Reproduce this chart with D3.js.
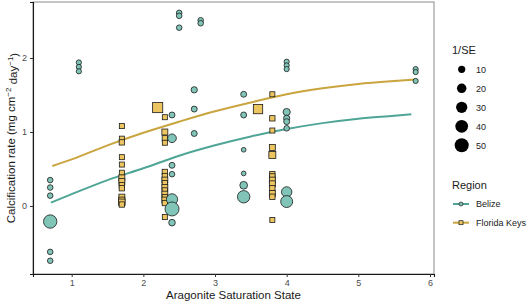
<!DOCTYPE html>
<html>
<head>
<meta charset="utf-8">
<script src="https://cdn.jsdelivr.net/npm/d3@7"></script>
<style>
  body { margin: 0; background: #fff; }
  text { font-family: "Liberation Sans", Arial, sans-serif; }
</style>
</head>
<body>
<div id="chart"></div>
<script>
// Belize points: aragonite state, calcification rate, 1/SE
const belizeX = [0.7, 0.7, 0.7, 0.7, 0.7, 0.7,
  1.1, 1.1, 1.1,
  2.4, 2.4, 2.4, 2.4, 2.4, 2.4, 2.4,
  2.5, 2.5, 2.5, 2.8, 2.8,
  2.71, 2.71, 2.71,
  3.4, 3.4, 3.4, 3.4, 3.4, 3.4,
  4.0, 4.0, 4.0, 4.0, 4.0, 4.0, 4.0, 4.0, 4.0,
  5.8, 5.8, 5.8];
const belizeY = [0.35, 0.25, 0.14, -0.21, -0.62, -0.74,
  1.94, 1.88, 1.82,
  1.23, 0.915, 0.55, 0.43, 0.09, -0.04, -0.225,
  2.61, 2.57, 2.41, 2.51, 2.47,
  1.57, 1.31, 0.98,
  1.51, 1.23, 0.76, 0.44, 0.28, 0.125,
  1.95, 1.90, 1.85, 1.27, 1.185, 1.14, 1.05, 0.19, 0.06,
  1.85, 1.81, 1.69];
const belizeW = [5, 5, 5, 45, 5, 5,
  4, 4, 4,
  6, 16, 6, 5, 30, 50, 8,
  5, 5, 5, 5, 5,
  7, 6, 6,
  6, 6, 3, 3, 12, 38,
  4, 4, 4, 10, 7, 6, 5, 25, 35,
  4, 4, 4];

// Florida Keys points
const floridaX = [1.7, 1.7, 1.7, 1.7, 1.7, 1.7, 1.7, 1.7, 1.7, 1.7, 1.7, 1.7, 1.7, 1.7,
  2.2,
  2.3, 2.3, 2.3, 2.3, 2.3, 2.3, 2.3, 2.3, 2.3, 2.3, 2.3, 2.3, 2.3, 2.3, 2.3,
  3.6,
  3.8, 3.8, 3.8, 3.8, 3.8, 3.8, 3.8, 3.8, 3.8, 3.8, 3.8, 3.8, 3.8];
const floridaY = [1.08, 0.91, 0.86, 0.66, 0.56, 0.45, 0.38, 0.33, 0.28, 0.24, 0.12, 0.08, 0.05, 0.02,
  1.33,
  1.20, 1.0, 0.915, 0.855, 0.46, 0.405, 0.35, 0.31, 0.25, 0.21, 0.16, 0.12, 0.08, 0.04, -0.15,
  1.31,
  1.51, 1.185, 1.02, 0.79, 0.69, 0.43, 0.40, 0.35, 0.30, 0.24, 0.17, 0.125, -0.19];
const floridaW = [5, 5, 6, 5, 5, 5, 8, 8, 6, 6, 8, 8, 10, 6,
  30,
  5, 8, 6, 5, 6, 6, 8, 6, 8, 6, 8, 6, 8, 6, 5,
  25,
  5, 6, 5, 8, 12, 6, 6, 8, 8, 6, 8, 6, 5];

// fitted curves
const fitBelizeX = [0.71, 1, 1.5, 2, 2.5, 3, 3.5, 4, 4.5, 5, 5.5, 5.74];
const fitBelizeY = [0.045, 0.16, 0.35, 0.51, 0.68, 0.82, 0.94, 1.04, 1.12, 1.18, 1.22, 1.24];
const fitFloridaX = [0.73, 1, 1.5, 2, 2.5, 3, 3.5, 4, 4.5, 5, 5.5, 5.8];
const fitFloridaY = [0.54, 0.63, 0.82, 0.99, 1.14, 1.28, 1.40, 1.51, 1.59, 1.65, 1.69, 1.71];

const xTicks = [1, 2, 3, 4, 5, 6];
const yTicks = [0, 1, 2];
const sizeBreaks = [10, 20, 30, 40, 50];
const regions = ["Belize", "Florida Keys"];

const color = {
  "Belize": { line: "#4fa596", fill: "#80c5b7" },
  "Florida Keys": { line: "#c9a43f", fill: "#ecc560" }
};

const width = 532, height = 305;
const panel = { left: 33, right: 434, top: 2, bottom: 274 };

const svg = d3.select("#chart").append("svg")
  .attr("width", width)
  .attr("height", height);

const x = d3.scaleLinear()
  .domain([0.46, 6.056])
  .range([panel.left, panel.right]);

const y = d3.scaleLinear()
  .domain([-0.919, 2.757])
  .range([panel.bottom, panel.top]);

const r = d3.scaleSqrt()
  .domain([10, 50])
  .range([3.6, 7]);

const radius = w => Math.max(2.2, r(w));

// panel border
svg.append("rect")
  .attr("x", panel.left)
  .attr("y", panel.top)
  .attr("width", panel.right - panel.left)
  .attr("height", panel.bottom - panel.top)
  .attr("fill", "none")
  .attr("stroke", "#8c8c8c")
  .attr("stroke-width", 1);

// axes
const xAxis = svg.append("g")
  .attr("transform", `translate(0,${panel.bottom})`)
  .call(d3.axisBottom(x).tickValues(xTicks).tickSize(3).tickPadding(3).tickFormat(d3.format("d")));
const yAxis = svg.append("g")
  .attr("transform", `translate(${panel.left},0)`)
  .call(d3.axisLeft(y).tickValues(yTicks).tickSize(3).tickPadding(3).tickFormat(d3.format("d")));

[xAxis, yAxis].forEach(g => {
  g.select(".domain").attr("stroke", "#1a1a1a").attr("stroke-width", 1.1);
  g.selectAll(".tick line").attr("stroke", "#333");
  g.selectAll(".tick text")
    .attr("fill", "#4d4d4d")
    .attr("font-size", "9px")
    .style("font-family", "Liberation Sans, Arial, sans-serif");
});

// axis titles
svg.append("text")
  .attr("x", (panel.left + panel.right) / 2)
  .attr("y", 299)
  .attr("text-anchor", "middle")
  .attr("font-size", "11.5px")
  .attr("fill", "#1a1a1a")
  .text("Aragonite Saturation State");

const yTitle = svg.append("text")
  .attr("transform", `translate(15,${(panel.top + panel.bottom) / 2}) rotate(-90)`)
  .attr("text-anchor", "middle")
  .attr("font-size", "11.5px")
  .attr("fill", "#1a1a1a");
yTitle.append("tspan").text("Calcification rate (mg cm");
yTitle.append("tspan").attr("dy", "-0.45em").attr("font-size", "8px").text("\u22122");
yTitle.append("tspan").attr("dy", "0.45em").text(" day");
yTitle.append("tspan").attr("dy", "-0.45em").attr("font-size", "8px").text("\u22121");
yTitle.append("tspan").attr("dy", "0.45em").text(")");

// fitted lines
const line = d3.line()
  .x(d => x(d[0]))
  .y(d => y(d[1]))
  .curve(d3.curveMonotoneX);

svg.append("path")
  .datum(d3.zip(fitBelizeX, fitBelizeY))
  .attr("d", line)
  .attr("fill", "none")
  .attr("stroke", color["Belize"].line)
  .attr("stroke-width", 2);

svg.append("path")
  .datum(d3.zip(fitFloridaX, fitFloridaY))
  .attr("d", line)
  .attr("fill", "none")
  .attr("stroke", color["Florida Keys"].line)
  .attr("stroke-width", 2);

// Florida Keys squares
const florida = d3.zip(floridaX, floridaY, floridaW);
svg.selectAll(".fk-point")
  .data(florida)
  .enter().append("rect")
  .attr("class", "fk-point")
  .attr("x", d => x(d[0]) - radius(d[2]) * 0.9)
  .attr("y", d => y(d[1]) - radius(d[2]) * 0.9)
  .attr("width", d => radius(d[2]) * 1.8)
  .attr("height", d => radius(d[2]) * 1.8)
  .attr("fill", color["Florida Keys"].fill)
  .attr("stroke", "#1a1a1a")
  .attr("stroke-width", 0.8);

// Belize circles
const belize = d3.zip(belizeX, belizeY, belizeW);
svg.selectAll(".bz-point")
  .data(belize)
  .enter().append("circle")
  .attr("class", "bz-point")
  .attr("cx", d => x(d[0]))
  .attr("cy", d => y(d[1]))
  .attr("r", d => radius(d[2]))
  .attr("fill", color["Belize"].fill)
  .attr("stroke", "#1a1a1a")
  .attr("stroke-width", 0.8);

// legend: 1/SE
const legend = svg.append("g");
legend.append("text")
  .attr("x", 452)
  .attr("y", 54)
  .attr("font-size", "11px")
  .attr("fill", "#1a1a1a")
  .text("1/SE");

sizeBreaks.forEach((b, i) => {
  const cy = 69.3 + i * 19;
  legend.append("circle")
    .attr("cx", 461.7)
    .attr("cy", cy)
    .attr("r", r(b))
    .attr("fill", "#000");
  legend.append("text")
    .attr("x", 476)
    .attr("y", cy + 3.2)
    .attr("font-size", "9px")
    .attr("fill", "#1a1a1a")
    .text(b);
});

// legend: Region
legend.append("text")
  .attr("x", 452)
  .attr("y", 189)
  .attr("font-size", "11px")
  .attr("fill", "#1a1a1a")
  .text("Region");

regions.forEach((reg, i) => {
  const cy = 204 + i * 18.7;
  legend.append("line")
    .attr("x1", 453)
    .attr("x2", 469)
    .attr("y1", cy)
    .attr("y2", cy)
    .attr("stroke", color[reg].line)
    .attr("stroke-width", 2);
  if (reg === "Belize") {
    legend.append("circle")
      .attr("cx", 461)
      .attr("cy", cy)
      .attr("r", 2)
      .attr("fill", color[reg].fill)
      .attr("stroke", "#1a1a1a")
      .attr("stroke-width", 0.7);
  } else {
    legend.append("rect")
      .attr("x", 459)
      .attr("y", cy - 2)
      .attr("width", 4)
      .attr("height", 4)
      .attr("fill", color[reg].fill)
      .attr("stroke", "#1a1a1a")
      .attr("stroke-width", 0.7);
  }
  legend.append("text")
    .attr("x", 476)
    .attr("y", cy + 3.2)
    .attr("font-size", "9px")
    .attr("fill", "#1a1a1a")
    .text(reg);
});
</script>
</body>
</html>
